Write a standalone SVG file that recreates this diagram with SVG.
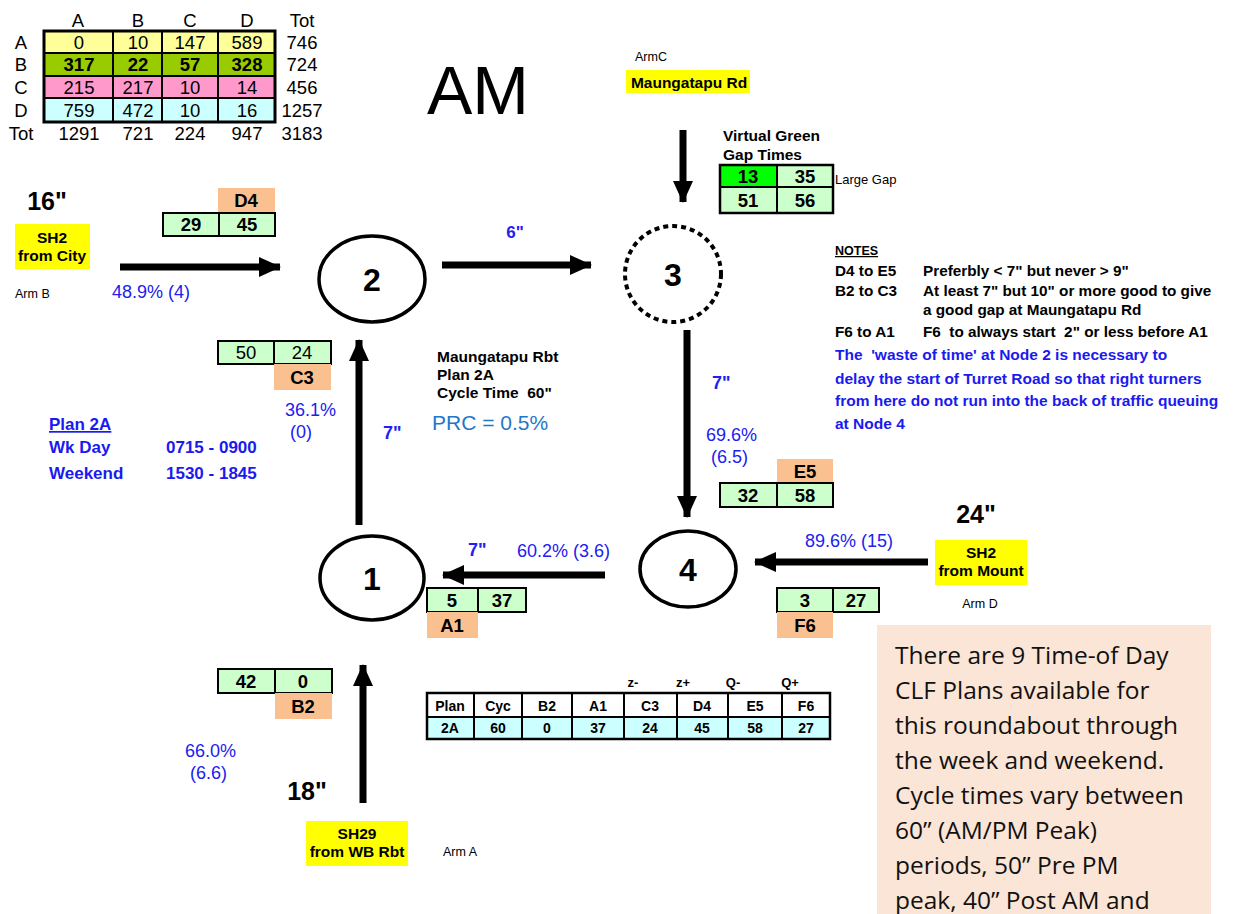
<svg xmlns="http://www.w3.org/2000/svg" width="1235" height="914" viewBox="0 0 1235 914">
<style>
text{font-family:"Liberation Sans",Arial,sans-serif;fill:#000;white-space:pre}
.t16{font-size:18.5px}
.tt{font-size:18.5px}
.b{font-weight:bold}
.c{text-anchor:middle}
.blue{fill:#2020F0}
.sm{font-size:12.5px}
.cell{stroke:#000;stroke-width:2}
.g{fill:#CCFFCC}
.o{fill:#FAC090}
.y{fill:#FFFF00}
.arrow{stroke:#000;stroke-width:7;fill:none}
.node{fill:#fff;stroke:#000;stroke-width:3.5}
.lbl{font-size:15.5px;font-weight:bold}
.pct{font-size:18px;fill:#2020F0}
.note{font-size:15.3px;font-weight:bold}
.nb{font-size:15.5px;font-weight:bold;fill:#1A1AF0}
.pl{font-size:17px;font-weight:bold;fill:#1A1AF0}
.big{font-size:25px;font-weight:bold}
.num{font-size:32px;font-weight:bold;text-anchor:middle}
.prc{font-size:21px;fill:#1E78C8}
.peach{font-family:"Open Sans","Noto Sans",sans-serif;font-size:24.5px;fill:#111}
</style>
<defs>
<marker id="ah" markerUnits="userSpaceOnUse" markerWidth="22" markerHeight="22" refX="21" refY="11" orient="auto">
<path d="M0,1 L22,11 L0,21 z" fill="#000"/>
</marker>
</defs>
<rect width="1235" height="914" fill="#fff"/>

<!-- OD matrix -->
<g id="od-matrix">
<rect x="44" y="31" width="231" height="22" fill="#FFFF99"/>
<rect x="44" y="53" width="231" height="23" fill="#99CC00"/>
<rect x="44" y="76" width="231" height="22" fill="#FF99CC"/>
<rect x="44" y="98" width="231" height="24" fill="#CCFFFF"/>
<g stroke="#000" stroke-width="2" fill="none">
<line x1="44" y1="53" x2="275" y2="53"/><line x1="44" y1="76" x2="275" y2="76"/><line x1="44" y1="98" x2="275" y2="98"/>
<line x1="113" y1="31" x2="113" y2="122"/><line x1="162" y1="31" x2="162" y2="122"/><line x1="218" y1="31" x2="218" y2="122"/>
<rect x="44" y="31" width="231" height="91" stroke-width="3"/>
</g>
<g class="tt">
<text x="78" y="27" class="c">A</text><text x="138" y="27" class="c">B</text><text x="190" y="27" class="c">C</text><text x="247" y="27" class="c">D</text><text x="302" y="27" class="c">Tot</text>
<text x="21" y="49" class="c">A</text><text x="21" y="71" class="c">B</text><text x="21" y="94" class="c">C</text><text x="21" y="117" class="c">D</text><text x="21" y="140" class="c">Tot</text>
<text x="79" y="49" class="c">0</text><text x="138" y="49" class="c">10</text><text x="190" y="49" class="c">147</text><text x="247" y="49" class="c">589</text><text x="302" y="49" class="c">746</text>
<text x="79" y="71" class="c b">317</text><text x="138" y="71" class="c b">22</text><text x="190" y="71" class="c b">57</text><text x="247" y="71" class="c b">328</text><text x="302" y="71" class="c">724</text>
<text x="79" y="94" class="c">215</text><text x="138" y="94" class="c">217</text><text x="190" y="94" class="c">10</text><text x="247" y="94" class="c">14</text><text x="302" y="94" class="c">456</text>
<text x="79" y="117" class="c">759</text><text x="138" y="117" class="c">472</text><text x="190" y="117" class="c">10</text><text x="247" y="117" class="c">16</text><text x="302" y="117" class="c">1257</text>
<text x="79" y="140" class="c">1291</text><text x="138" y="140" class="c">721</text><text x="190" y="140" class="c">224</text><text x="247" y="140" class="c">947</text><text x="302" y="140" class="c">3183</text>
</g>
</g>

<text x="478" y="114" class="c" font-size="68">AM</text>

<!-- Arm C -->
<g id="armC">
<text x="635" y="61" class="sm">ArmC</text>
<rect x="626" y="70" width="124" height="23" class="y"/>
<text x="689" y="88" class="c lbl">Maungatapu Rd</text>
</g>

<!-- Virtual green -->
<g id="virtual-green">
<text x="723" y="141" class="lbl">Virtual Green</text>
<text x="723" y="160" class="lbl">Gap Times</text>
<rect x="720" y="165" width="57" height="22" fill="#00FF00"/>
<rect x="777" y="165" width="56" height="22" class="g"/>
<rect x="720" y="187" width="113" height="26" class="g"/>
<g stroke="#000" fill="none"><rect x="720" y="165" width="113" height="48" stroke-width="2.5"/><line x1="720" y1="187" x2="833" y2="187" stroke-width="2"/><line x1="777" y1="165" x2="777" y2="213" stroke-width="2"/></g>
<text x="748" y="183" class="c b t16">13</text><text x="805" y="183" class="c b t16">35</text>
<text x="748" y="207" class="c b t16">51</text><text x="805" y="207" class="c b t16">56</text>
<text x="835" y="184" font-size="13">Large Gap</text>
</g>

<!-- Arm B -->
<g id="armB">
<text x="47" y="210" class="c big">16"</text>
<rect x="15" y="224" width="75" height="45" class="y"/>
<text x="52" y="243" class="c lbl">SH2</text>
<text x="52" y="261" class="c lbl">from City</text>
<text x="15" y="298" class="sm">Arm B</text>
<text x="112" y="298" class="pct">48.9% (4)</text>
</g>

<!-- D4 -->
<g id="D4">
<rect x="218" y="188" width="57" height="25" class="o"/>
<text x="246" y="207" class="c b t16">D4</text>
<rect x="163" y="213" width="112" height="23" class="g cell"/><line x1="219" y1="213" x2="219" y2="236" class="cell"/>
<text x="191" y="231" class="c b t16">29</text><text x="247" y="231" class="c b t16">45</text>
</g>

<!-- C3 -->
<g id="C3">
<rect x="218" y="341" width="113" height="23" class="g cell"/><line x1="274" y1="341" x2="274" y2="364" class="cell"/>
<text x="246" y="359" class="c t16">50</text><text x="302" y="359" class="c t16">24</text>
<rect x="274" y="364" width="57" height="26" class="o"/>
<text x="302" y="384" class="c b t16">C3</text>
<text x="285" y="416" class="pct">36.1%</text>
<text x="290" y="438" class="pct">(0)</text>
</g>

<!-- Plan info -->
<g id="plan-info">
<text x="49" y="430" class="pl" text-decoration="underline">Plan 2A</text>
<text x="49" y="453" class="pl">Wk Day</text><text x="166" y="453" class="pl">0715 - 0900</text>
<text x="49" y="479" class="pl">Weekend</text><text x="166" y="479" class="pl">1530 - 1845</text>
</g>

<g id="rbt-info">
<text x="437" y="362" class="lbl">Maungatapu Rbt</text>
<text x="437" y="380" class="lbl">Plan 2A</text>
<text x="437" y="398" class="lbl">Cycle Time  60"</text>
<text x="432" y="430" class="prc">PRC = 0.5%</text>
</g>

<!-- Nodes -->
<g id="node2"><ellipse cx="372" cy="279" rx="53" ry="43" class="node"/><text x="372" y="291" class="num">2</text></g>
<g id="node3"><circle cx="673" cy="274" r="48" fill="#fff" stroke="#000" stroke-width="4" stroke-dasharray="5 4"/><text x="673" y="286" class="num">3</text></g>
<g id="node1"><ellipse cx="372" cy="578" rx="52" ry="42" class="node"/><text x="372" y="590" class="num">1</text></g>
<g id="node4"><ellipse cx="688" cy="569" rx="48" ry="38" class="node"/><text x="688" y="581" class="num">4</text></g>

<!-- Connectors -->
<g id="connectors">
<line x1="120" y1="267" x2="280" y2="267" class="arrow" marker-end="url(#ah)"/>
<line x1="442" y1="265" x2="591" y2="265" class="arrow" marker-end="url(#ah)"/>
<line x1="683" y1="130" x2="683" y2="202" class="arrow" marker-end="url(#ah)"/>
<line x1="687" y1="330" x2="687" y2="517" class="arrow" marker-end="url(#ah)"/>
<line x1="605" y1="575" x2="443" y2="575" class="arrow" marker-end="url(#ah)"/>
<line x1="928" y1="562" x2="755" y2="562" class="arrow" marker-end="url(#ah)"/>
<line x1="359" y1="525" x2="359" y2="340" class="arrow" marker-end="url(#ah)"/>
<line x1="363" y1="803" x2="363" y2="665" class="arrow" marker-end="url(#ah)"/>
</g>

<text x="515" y="238" class="c b blue" font-size="17">6"</text>
<text x="383" y="439" class="b blue" font-size="18">7"</text>
<text x="712" y="389" class="b blue" font-size="18">7"</text>
<text x="706" y="441" class="pct">69.6%</text>
<text x="711" y="463" class="pct">(6.5)</text>

<!-- E5 -->
<g id="E5">
<rect x="777" y="459" width="56" height="24" class="o"/>
<text x="805" y="478" class="c b t16">E5</text>
<rect x="720" y="483" width="113" height="24" class="g cell"/><line x1="777" y1="483" x2="777" y2="507" class="cell"/>
<text x="748" y="502" class="c b t16">32</text><text x="805" y="502" class="c b t16">58</text>
</g>

<!-- Arm D -->
<g id="armD">
<text x="976" y="523" class="c big">24"</text>
<rect x="935" y="540" width="92" height="45" class="y"/>
<text x="981" y="558" class="c lbl">SH2</text>
<text x="981" y="576" class="c lbl">from Mount</text>
<text x="980" y="608" class="c sm">Arm D</text>
<text x="805" y="547" class="pct">89.6% (15)</text>
</g>

<!-- F6 -->
<g id="F6">
<rect x="777" y="588" width="102" height="24" class="g cell"/><line x1="833" y1="588" x2="833" y2="612" class="cell"/>
<text x="805" y="607" class="c b t16">3</text><text x="856" y="607" class="c b t16">27</text>
<rect x="777" y="612" width="56" height="26" class="o"/>
<text x="805" y="632" class="c b t16">F6</text>
</g>

<!-- A1 -->
<g id="A1">
<text x="468" y="556" class="b blue" font-size="18">7"</text>
<text x="517" y="557" class="pct">60.2% (3.6)</text>
<rect x="427" y="588" width="99" height="24" class="g cell"/><line x1="478" y1="588" x2="478" y2="612" class="cell"/>
<text x="452" y="607" class="c b t16">5</text><text x="502" y="607" class="c b t16">37</text>
<rect x="427" y="612" width="51" height="26" class="o"/>
<text x="452" y="632" class="c b t16">A1</text>
</g>

<!-- B2 -->
<g id="B2">
<rect x="218" y="669" width="114" height="24" class="g cell"/><line x1="275" y1="669" x2="275" y2="693" class="cell"/>
<text x="246" y="688" class="c b t16">42</text><text x="303" y="688" class="c b t16">0</text>
<rect x="275" y="693" width="57" height="26" class="o"/>
<text x="303" y="713" class="c b t16">B2</text>
<text x="185" y="757" class="pct">66.0%</text>
<text x="190" y="779" class="pct">(6.6)</text>
</g>

<!-- Arm A -->
<g id="armA">
<text x="307" y="800" class="c big">18"</text>
<rect x="306" y="821" width="102" height="45" class="y"/>
<text x="357" y="839" class="c lbl">SH29</text>
<text x="357" y="857" class="c lbl">from WB Rbt</text>
<text x="443" y="856" class="sm">Arm A</text>
</g>

<!-- Plan table -->
<g id="plan-table">
<text x="633" y="687" class="c b" font-size="13">z-</text><text x="683" y="687" class="c b" font-size="13">z+</text><text x="733" y="687" class="c b" font-size="13">Q-</text><text x="790" y="687" class="c b" font-size="13">Q+</text>
<rect x="427" y="693" width="403" height="24" fill="#fff"/>
<rect x="427" y="717" width="403" height="22" fill="#CCFFFF"/>
<g stroke="#000" stroke-width="2" fill="none">
<line x1="427" y1="717" x2="830" y2="717"/>
<line x1="474" y1="693" x2="474" y2="739"/><line x1="522" y1="693" x2="522" y2="739"/><line x1="572" y1="693" x2="572" y2="739"/><line x1="624" y1="693" x2="624" y2="739"/><line x1="677" y1="693" x2="677" y2="739"/><line x1="728" y1="693" x2="728" y2="739"/><line x1="782" y1="693" x2="782" y2="739"/>
<rect x="427" y="693" width="403" height="46" stroke-width="2.5"/>
</g>
<g font-size="14" font-weight="bold" text-anchor="middle">
<text x="450" y="711">Plan</text><text x="498" y="711">Cyc</text><text x="547" y="711">B2</text><text x="598" y="711">A1</text><text x="650" y="711">C3</text><text x="702" y="711">D4</text><text x="755" y="711">E5</text><text x="806" y="711">F6</text>
<text x="450" y="733">2A</text><text x="498" y="733">60</text><text x="547" y="733">0</text><text x="598" y="733">37</text><text x="650" y="733">24</text><text x="702" y="733">45</text><text x="755" y="733">58</text><text x="806" y="733">27</text>
</g>
</g>

<!-- Notes -->
<g id="notes">
<text x="835" y="255" font-size="12.5" font-weight="bold" text-decoration="underline">NOTES</text>
<text x="835" y="276" class="note">D4 to E5</text><text x="923" y="276" class="note">Preferbly &lt; 7" but never &gt; 9"</text>
<text x="835" y="296" class="note">B2 to C3</text><text x="923" y="296" class="note">At least 7" but 10" or more good to give</text>
<text x="923" y="315" class="note">a good gap at Maungatapu Rd</text>
<text x="835" y="337" class="note">F6 to A1</text><text x="923" y="337" class="note">F6  to always start  2" or less before A1</text>
<text x="835" y="360" class="nb">The  'waste of time' at Node 2 is necessary to</text>
<text x="835" y="384" class="nb">delay the start of Turret Road so that right turners</text>
<text x="835" y="406" class="nb">from here do not run into the back of traffic queuing</text>
<text x="835" y="429" class="nb">at Node 4</text>
</g>

<!-- Peach note -->
<g id="peach-note">
<rect x="877" y="625" width="334" height="289" fill="#FBE5D6"/>
<text x="895" y="664" class="peach">There are 9 Time-of Day</text>
<text x="895" y="699" class="peach">CLF Plans available for</text>
<text x="895" y="734" class="peach">this roundabout through</text>
<text x="895" y="769" class="peach">the week and weekend.</text>
<text x="895" y="804" class="peach">Cycle times vary between</text>
<text x="895" y="839" class="peach">60” (AM/PM Peak)</text>
<text x="895" y="874" class="peach">periods, 50” Pre PM</text>
<text x="895" y="909" class="peach">peak, 40” Post AM and</text>
</g>
</svg>
